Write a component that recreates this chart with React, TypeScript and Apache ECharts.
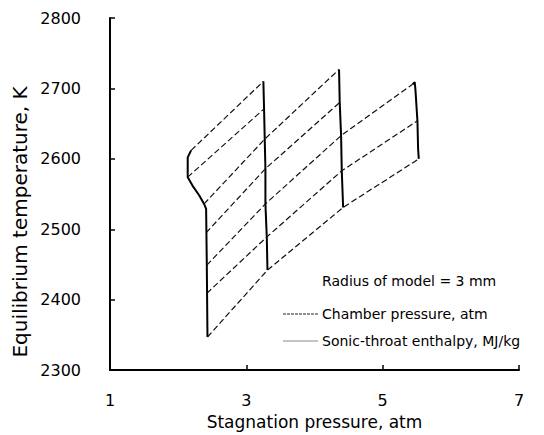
import React, { useEffect, useRef } from "react";
import * as echarts from "echarts";

// Chamber pressure curves (near-vertical), [stagnation pressure atm, temperature K]
const chamberA = [[2.19, 2612], [2.14, 2602], [2.14, 2574], [2.21, 2562], [2.31, 2548], [2.38, 2536], [2.41, 2529], [2.42, 2450], [2.43, 2347]];
const chamberB = [[3.25, 2710], [3.26, 2671], [3.27, 2628], [3.28, 2586], [3.28, 2536], [3.30, 2489], [3.31, 2442]];
const chamberC = [[4.36, 2727], [4.37, 2680], [4.39, 2633], [4.40, 2583], [4.42, 2531]];
const chamberD = [[5.44, 2706], [5.47, 2709], [5.48, 2699], [5.51, 2654], [5.52, 2614], [5.53, 2600]];

// Sonic-throat enthalpy curves (diagonal, dashed)
const enthalpy1 = [[2.19, 2612], [3.25, 2710]];
const enthalpy2 = [[2.14, 2574], [3.26, 2671]];
const enthalpy3 = [[2.38, 2536], [3.27, 2628], [4.36, 2727]];
const enthalpy4 = [[2.41, 2495], [3.28, 2586], [4.37, 2680]];
const enthalpy5 = [[2.42, 2449], [3.28, 2536], [4.39, 2633], [5.44, 2706]];
const enthalpy6 = [[2.42, 2409], [3.30, 2489], [4.40, 2583], [5.51, 2654]];
const enthalpy7 = [[2.43, 2347], [3.31, 2442], [4.42, 2531], [5.53, 2600]];

const chamberCurves = [chamberA, chamberB, chamberC, chamberD];
const enthalpyCurves = [enthalpy1, enthalpy2, enthalpy3, enthalpy4, enthalpy5, enthalpy6, enthalpy7];

const xTicks = { min: 1, max: 7, interval: 2 };
const yTicks = { min: 2300, max: 2800, interval: 100 };

const CHAMBER = "Chamber pressure, atm";
const ENTHALPY = "Sonic-throat enthalpy, MJ/kg";
const NOTE = "Radius of model = 3 mm";
const X_NAME = "Stagnation pressure, atm";
const Y_NAME = "Equilibrium temperature, K";

const FONT = "DejaVu Sans";

export default function App() {
  const ref = useRef<HTMLDivElement>(null);
  useEffect(() => {
    document.body.style.margin = "0";
    if (!ref.current) return;
    const chart = echarts.init(ref.current, null, { renderer: "svg" });
    const series: any[] = [];
    chamberCurves.forEach((d) =>
      series.push({
        type: "line",
        name: CHAMBER,
        data: d,
        symbol: "none",
        silent: true,
        lineStyle: { color: "#000", width: 2 },
      })
    );
    enthalpyCurves.forEach((d) =>
      series.push({
        type: "line",
        name: ENTHALPY,
        data: d,
        symbol: "none",
        silent: true,
        lineStyle: { color: "#111", width: 1.2, type: [6, 3] },
      })
    );
    const legendText = (text: string, y: number) => ({
      type: "text",
      x: 322,
      y,
      style: { text, fontSize: 14, fontFamily: FONT, fill: "#000", align: "left", verticalAlign: "middle" },
    });
    chart.setOption({
      animation: false,
      textStyle: { fontFamily: FONT, color: "#000" },
      grid: { left: 110, right: 25, top: 18, bottom: 64 },
      xAxis: {
        type: "value",
        min: xTicks.min,
        max: xTicks.max,
        interval: xTicks.interval,
        name: X_NAME,
        nameLocation: "middle",
        nameGap: 42,
        nameTextStyle: { fontSize: 17, color: "#000" },
        axisLine: { lineStyle: { color: "#000", width: 2 } },
        axisTick: { inside: true, length: 5, lineStyle: { color: "#000", width: 1.5 } },
        axisLabel: { fontSize: 16, color: "#000", margin: 22, formatter: (v: number) => String(v) },
        splitLine: { show: false },
      },
      yAxis: {
        type: "value",
        min: yTicks.min,
        max: yTicks.max,
        interval: yTicks.interval,
        axisLine: { show: true, lineStyle: { color: "#000", width: 2 } },
        axisTick: { show: true, inside: true, length: 5, lineStyle: { color: "#000", width: 1.5 } },
        axisLabel: { fontSize: 16, color: "#000", margin: 29, formatter: (v: number) => String(v) },
        splitLine: { show: false },
      },
      graphic: [
        {
          type: "text",
          x: 20,
          y: 222,
          rotation: Math.PI / 2,
          style: {
            text: Y_NAME,
            fontSize: 20,
            fontFamily: FONT,
            fill: "#000",
            align: "center",
            verticalAlign: "middle",
          },
        },
        {
          type: "text",
          x: 322,
          y: 281,
          style: { text: NOTE, fontSize: 14, fontFamily: FONT, fill: "#000", align: "left", verticalAlign: "middle" },
        },
        {
          type: "line",
          shape: { x1: 283, y1: 314, x2: 318, y2: 314 },
          style: { stroke: "#222", lineWidth: 1, lineDash: [3, 1] },
        },
        legendText(CHAMBER, 314),
        {
          type: "line",
          shape: { x1: 283, y1: 341, x2: 318, y2: 341 },
          style: { stroke: "#888", lineWidth: 1 },
        },
        legendText(ENTHALPY, 341),
      ],
      series,
    });
    return () => chart.dispose();
  }, []);
  return <div ref={ref} style={{ width: 544, height: 435 }} />;
}
